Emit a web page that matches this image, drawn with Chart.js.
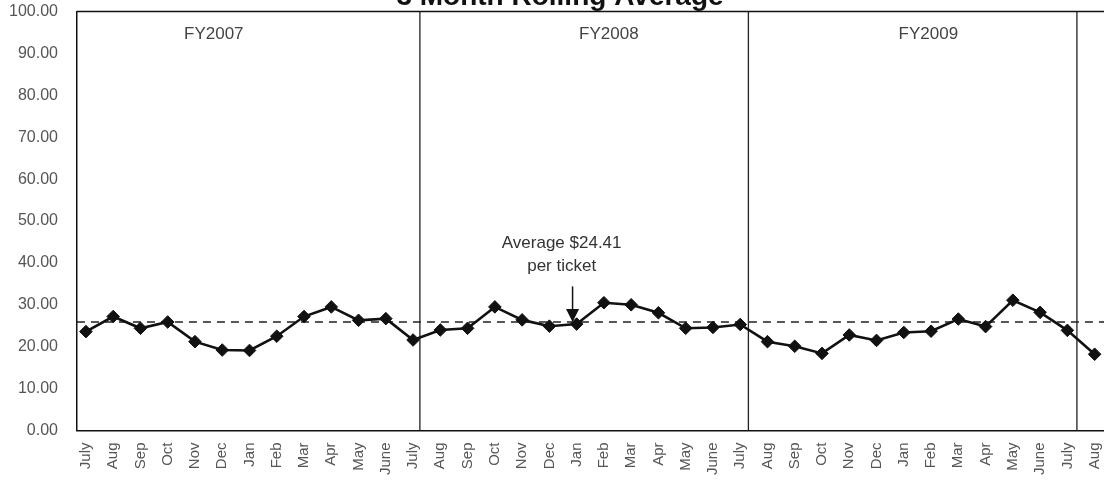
<!DOCTYPE html>
<html>
<head>
<meta charset="utf-8">
<script src="https://cdn.jsdelivr.net/npm/chart.js@4/dist/chart.umd.min.js"></script>
<style>
  html, body { margin: 0; padding: 0; background: #fff; overflow: hidden; }
  #wrap { width: 1160px; height: 483px; position: relative; }
</style>
</head>
<body>
<div id="wrap"><canvas id="myChart"></canvas></div>
<script>
// month labels, July FY2007 .. Aug FY2010
const months = [
  "July", "Aug", "Sep", "Oct", "Nov", "Dec", "Jan", "Feb", "Mar", "Apr", "May", "June",
  "July", "Aug", "Sep", "Oct", "Nov", "Dec", "Jan", "Feb", "Mar", "Apr", "May", "June",
  "July", "Aug", "Sep", "Oct", "Nov", "Dec", "Jan", "Feb", "Mar", "Apr", "May", "June",
  "July", "Aug"
];

// 3 month rolling average ($ per ticket)
const rollingAvg = [
  23.6, 27.2, 24.4, 25.9, 21.2, 19.2, 19.1, 22.5, 27.2, 29.5, 26.3, 26.7,
  21.6, 24.0, 24.4, 29.5, 26.4, 24.9, 25.4, 30.5, 30.0, 28.1, 24.4, 24.6,
  25.3, 21.2, 20.1, 18.4, 22.8, 21.5, 23.4, 23.7, 26.6, 24.8, 31.1, 28.2,
  23.9, 18.2
];

// dashed average line
const averageLine = 25.9;

// fiscal year labels and the boundaries between years (x in month index)
const fyLabels = ["FY2007", "FY2008", "FY2009"];
const fyLabelX = [4.69, 19.18, 30.9];
const fyBoundaries = [12.25, 24.3, 36.35];

// callout
const calloutLines = ["Average $24.41", "per ticket"];
const calloutX = 17.45;
const arrowX = 17.85;

const xMin = -0.33;
const xMax = 39.13;

const ctx = document.getElementById("myChart").getContext("2d");

const seriesPoints = months.map((m, i) => ({ x: i, y: rollingAvg[i] }));

const boundarySets = fyBoundaries.map((b) => ({
  data: [{ x: b, y: 0 }, { x: b, y: 100 }],
  borderColor: "#222",
  borderWidth: 1.3,
  pointRadius: 0,
  fill: false,
}));

// draws the title, top border, FY labels and the arrow callout
const decorations = {
  id: "decorations",
  afterDatasetsDraw(chart) {
    const { ctx, chartArea, scales } = chart;
    const xs = scales.x;
    const ys = scales.y;
    ctx.save();

    // top border of plot
    ctx.strokeStyle = "#111";
    ctx.lineWidth = 1.5;
    ctx.beginPath();
    ctx.moveTo(chartArea.left, chartArea.top);
    ctx.lineTo(chartArea.right, chartArea.top);
    ctx.stroke();

    // fiscal year labels
    ctx.fillStyle = "#444";
    ctx.font = '17px "Liberation Sans", Arial, sans-serif';
    ctx.textAlign = "center";
    ctx.textBaseline = "middle";
    fyLabels.forEach((t, i) => {
      ctx.fillText(t, xs.getPixelForValue(fyLabelX[i]), ys.getPixelForValue(94.5));
    });

    // callout text
    ctx.fillStyle = "#333";
    ctx.fillText(calloutLines[0], xs.getPixelForValue(calloutX), ys.getPixelForValue(44.6));
    ctx.fillText(calloutLines[1], xs.getPixelForValue(calloutX), ys.getPixelForValue(39.1));

    // arrow down to the average line
    const ax = xs.getPixelForValue(arrowX);
    const yStart = ys.getPixelForValue(34.4);
    const yTip = ys.getPixelForValue(averageLine);
    ctx.strokeStyle = "#111";
    ctx.lineWidth = 1.5;
    ctx.beginPath();
    ctx.moveTo(ax, yStart);
    ctx.lineTo(ax, yTip - 10);
    ctx.stroke();
    ctx.fillStyle = "#111";
    ctx.beginPath();
    ctx.moveTo(ax - 6.5, yTip - 13);
    ctx.lineTo(ax + 6.5, yTip - 13);
    ctx.lineTo(ax, yTip);
    ctx.closePath();
    ctx.fill();

    // title (cut off at the top, as in the scan)
    ctx.fillStyle = "#111";
    ctx.font = 'bold 28px "Liberation Sans", Arial, sans-serif';
    ctx.textBaseline = "alphabetic";
    ctx.fillText("3 Month Rolling Average", 560, 5);

    ctx.restore();
  },
};

new Chart(ctx, {
  type: "line",
  data: {
    datasets: [
      {
        label: "3 Month Rolling Average",
        data: seriesPoints,
        borderColor: "#111",
        backgroundColor: "#111",
        borderWidth: 2.6,
        pointStyle: "rectRot",
        pointRadius: 6.3,
        pointBorderWidth: 1,
        fill: false,
        tension: 0,
      },
      {
        label: "Average",
        data: [{ x: xMin, y: averageLine }, { x: xMax, y: averageLine }],
        borderColor: "#222",
        borderWidth: 1.3,
        borderDash: [8, 6],
        pointRadius: 0,
        fill: false,
      },
      ...boundarySets,
    ],
  },
  options: {
    responsive: true,
    maintainAspectRatio: false,
    animation: false,
    layout: {
      padding: { left: 7, right: 0, top: 0, bottom: 6 },
    },
    scales: {
      x: {
        type: "linear",
        min: xMin,
        max: xMax,
        afterBuildTicks: (scale) => {
          scale.ticks = months.map((m, i) => ({ value: i }));
        },
        ticks: {
          callback: (v) => months[v],
          autoSkip: false,
          maxRotation: 90,
          minRotation: 90,
          padding: 2,
          color: "#555",
          font: { family: '"Liberation Sans", Arial, sans-serif', size: 15 },
        },
        grid: { display: false, tickLength: 10 },
        border: { display: true, color: "#111", width: 1.5 },
      },
      y: {
        min: 0,
        max: 100,
        ticks: {
          stepSize: 10,
          callback: (v) => v.toFixed(2),
          padding: 2,
          color: "#555",
          font: { family: '"Liberation Sans", Arial, sans-serif', size: 16 },
        },
        grid: { display: false, tickLength: 17 },
        border: { display: true, color: "#111", width: 1.5 },
      },
    },
    plugins: {
      legend: { display: false },
      tooltip: { enabled: false },
    },
  },
  plugins: [decorations],
});
</script>
</body>
</html>
